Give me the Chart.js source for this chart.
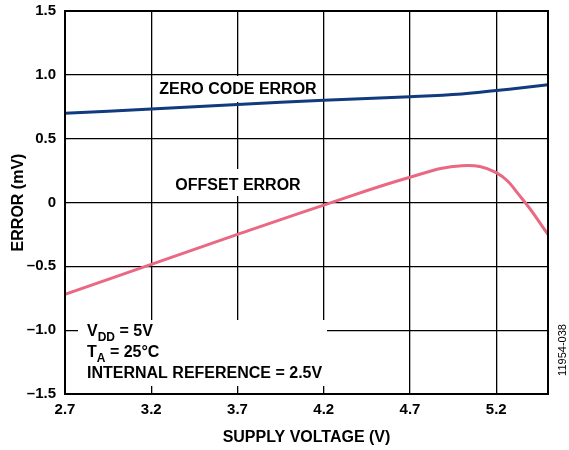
<!DOCTYPE html>
<html>
<head>
<meta charset="utf-8">
<script src="https://cdn.jsdelivr.net/npm/chart.js@4.4.1/dist/chart.umd.min.js"></script>
<style>
  html, body { margin: 0; padding: 0; background: #fff; }
  #wrap { width: 569px; height: 450px; position: relative; }
</style>
</head>
<body>
<div id="wrap"><canvas id="chart" width="569" height="450"></canvas></div>
<script>
const FONT = "'Liberation Sans', Arial, Helvetica, sans-serif";

// supply voltage (V)
const voltages = [2.7, 3.2, 3.7, 4.2, 4.7, 5.0, 5.2, 5.35, 5.5];
// error (mV)
const zeroCodeError = [0.70, 0.732, 0.768, 0.80, 0.828, 0.85, 0.877, 0.898, 0.922];
const offsetError = [-0.72, -0.485, -0.25, -0.02, 0.198, 0.288, 0.234, 0.03, -0.25];

const xTicks = [2.7, 3.2, 3.7, 4.2, 4.7, 5.2, 5.5];
const yTicks = [-1.5, -1.0, -0.5, 0, 0.5, 1.0, 1.5];

function pts(vals) {
  return voltages.map((v, i) => ({ x: v, y: vals[i] }));
}

function fmtY(v) {
  if (v === 0) return "0";
  if (v < 0) return "\u2013" + Math.abs(v).toFixed(1);
  return v.toFixed(1);
}

// white boxes behind the labels, drawn over the grid but under the lines
const labelBoxes = {
  id: "labelBoxes",
  beforeDatasetsDraw(chart) {
    const ctx = chart.ctx;
    ctx.save();
    ctx.fillStyle = "#fff";
    ctx.fillRect(155, 76, 167, 26);
    ctx.fillRect(170, 169, 135, 27);
    ctx.fillRect(78, 320, 249, 66);

    ctx.fillStyle = "#000";
    ctx.font = "bold 16px " + FONT;
    ctx.textAlign = "center";
    ctx.textBaseline = "alphabetic";
    ctx.fillText("ZERO CODE ERROR", 238, 94);
    ctx.fillText("OFFSET ERROR", 238, 190);

    ctx.textAlign = "left";
    let x = 87;
    // V_DD = 5V
    ctx.fillText("V", x, 336);
    x += ctx.measureText("V").width;
    ctx.font = "bold 12px " + FONT;
    ctx.fillText("DD", x, 341);
    x += ctx.measureText("DD").width;
    ctx.font = "bold 16px " + FONT;
    ctx.fillText(" = 5V", x, 336);
    // T_A = 25°C
    x = 87;
    ctx.fillText("T", x, 357);
    x += ctx.measureText("T").width;
    ctx.font = "bold 12px " + FONT;
    ctx.fillText("A", x, 362);
    x += ctx.measureText("A").width;
    ctx.font = "bold 16px " + FONT;
    ctx.fillText(" = 25°C", x, 357);
    ctx.fillText("INTERNAL REFERENCE = 2.5V", 87, 378);
    ctx.restore();
  },
  afterDraw(chart) {
    const ctx = chart.ctx;
    const a = chart.chartArea;
    ctx.save();
    ctx.strokeStyle = "#000";
    ctx.lineWidth = 2;
    ctx.strokeRect(a.left, a.top, a.right - a.left, a.bottom - a.top);
    // figure number at the right edge
    ctx.translate(563, 350);
    ctx.rotate(-Math.PI / 2);
    ctx.fillStyle = "#000";
    ctx.font = "11px " + FONT;
    ctx.textAlign = "center";
    ctx.textBaseline = "middle";
    ctx.fillText("11954-038", 0, 0);
    ctx.restore();
  }
};

new Chart(document.getElementById("chart"), {
  type: "line",
  data: {
    datasets: [
      {
        label: "ZERO CODE ERROR",
        data: pts(zeroCodeError),
        borderColor: "#113a7f",
        borderWidth: 3,
        pointRadius: 0,
        tension: 0.4,
        fill: false
      },
      {
        label: "OFFSET ERROR",
        data: pts(offsetError),
        borderColor: "#ea6882",
        borderWidth: 3,
        pointRadius: 0,
        tension: 0.4,
        fill: false
      }
    ]
  },
  options: {
    responsive: false,
    animation: false,
    devicePixelRatio: 1,
    layout: { padding: { top: 11, right: 21, left: 0, bottom: 0 } },
    plugins: { legend: { display: false }, tooltip: { enabled: false } },
    scales: {
      x: {
        type: "linear",
        min: 2.7,
        max: 5.5,
        afterBuildTicks: (axis) => { axis.ticks = xTicks.map(v => ({ value: v })); },
        afterFit: (axis) => { axis.height = 56; axis.paddingLeft = 0; axis.paddingRight = 0; },
        grid: { color: "#000", lineWidth: 1.3, drawTicks: false },
        border: { display: false },
        ticks: {
          color: "#000",
          padding: 7,
          maxRotation: 0,
          font: { family: FONT, size: 15, weight: "bold" },
          callback: (v) => (v === 5.5 ? "" : v.toFixed(1))
        },
        title: {
          display: true,
          text: "SUPPLY VOLTAGE (V)",
          color: "#000",
          padding: { top: 0, bottom: 3 },
          font: { family: FONT, size: 16, weight: "bold" }
        }
      },
      y: {
        min: -1.5,
        max: 1.5,
        afterBuildTicks: (axis) => { axis.ticks = yTicks.map(v => ({ value: v })); },
        afterFit: (axis) => { axis.width = 65; axis.paddingTop = 0; axis.paddingBottom = 0; },
        grid: { color: "#000", lineWidth: 1.3, drawTicks: false },
        border: { display: false },
        ticks: {
          color: "#000",
          padding: 9,
          font: { family: FONT, size: 15, weight: "bold" },
          callback: (v) => fmtY(v)
        },
        title: {
          display: true,
          text: "ERROR (mV)",
          color: "#000",
          padding: { top: 9, bottom: 0 },
          font: { family: FONT, size: 16, weight: "bold" }
        }
      }
    }
  },
  plugins: [labelBoxes]
});
</script>
</body>
</html>
